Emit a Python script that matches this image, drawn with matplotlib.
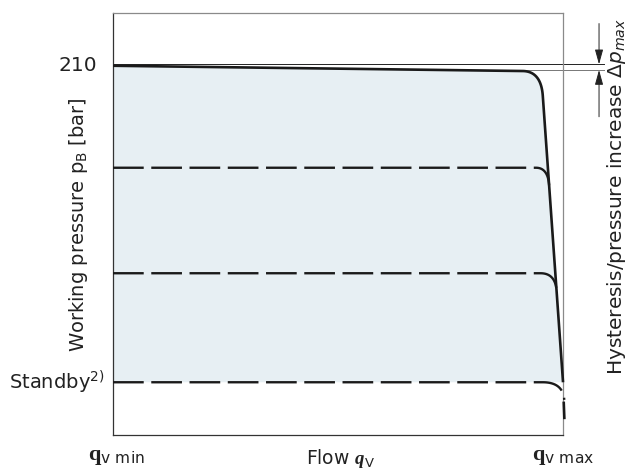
import numpy as np
import matplotlib
matplotlib.use("Agg")
import matplotlib.pyplot as plt

plt.rcParams['font.family'] = ['DejaVu Sans']
plt.rcParams['mathtext.fontset'] = 'custom'
plt.rcParams['mathtext.rm'] = 'DejaVu Sans'
plt.rcParams['mathtext.it'] = 'DejaVu Sans:italic'
plt.rcParams['mathtext.bf'] = 'Liberation Serif:bold'
plt.rcParams['mathtext.bfit'] = 'Liberation Serif:italic:bold'

# Pressure curve data (flow normalised 0 = qv min, 1 = qv max)
max_pressure = 210
top_end_pressure = 207
hysteresis_levels = [210.8, 207.6]
setting_levels = [152, 92, 30]        # dashed pressure settings, last one = standby
droop_top = (0.955, 193)              # steep regulator line, solid part
droop_bottom = (1.0, 30)
droop_tail = [(1.0015, 19), (1.003, 9)]

FILL = '#e7eff3'
LINE = '#1a1a1a'
TEXT = '#222222'


def droop_x(p):
    """x position of the steep droop line at pressure p"""
    (x0, p0), (x1, p1) = droop_top, droop_bottom
    return x0 + (p0 - p) / (p0 - p1) * (x1 - x0)


def bezier(p0, c, p1, n=30):
    t = np.linspace(0, 1, n)[:, None]
    pts = (1 - t) ** 2 * np.array(p0) + 2 * (1 - t) * t * np.array(c) + t ** 2 * np.array(p1)
    return pts[:, 0], pts[:, 1]


def corner_curve(x_start, p_level, drop):
    xs = [0, x_start]
    ps = [p_level, p_level]
    bx, bp = bezier((x_start, p_level), (droop_x(p_level), p_level),
                    (droop_x(p_level - drop), p_level - drop))
    return np.r_[xs, bx[1:]], np.r_[ps, bp[1:]]


fig = plt.figure(figsize=(6.3, 4.68), dpi=100)
ax = fig.add_axes([0.1794, 0.0705, 0.7143, 0.9017])
ax.set_xlim(0, 1)
ax.set_ylim(0, 240)
ax.set_xticks([])
ax.set_yticks([])
for side in ['left', 'bottom']:
    ax.spines[side].set_color('#333333')
    ax.spines[side].set_linewidth(0.9)
for side in ['top', 'right']:
    ax.spines[side].set_color('#8a8a8a')
    ax.spines[side].set_linewidth(0.9)

# top solid curve: slight slope then rounded corner into the droop line
tx = np.linspace(0, 0.912, 20)
tp = max_pressure + (top_end_pressure - max_pressure) * tx / 0.912
bx, bp = bezier((0.912, top_end_pressure), (droop_x(top_end_pressure), top_end_pressure - 0.4),
                droop_top)
top_x = np.r_[tx, bx[1:], droop_bottom[0]]
top_p = np.r_[tp, bp[1:], droop_bottom[1]]

# fill between top curve and standby level
fill_x = np.r_[top_x, 0]
fill_p = np.r_[np.maximum(top_p, setting_levels[-1]), setting_levels[-1]]
ax.fill(fill_x, fill_p, color=FILL, lw=0, zorder=1)

ax.plot(top_x, top_p, color=LINE, lw=1.9, solid_capstyle='butt', zorder=3, clip_on=False)
ax.plot([p[0] for p in droop_tail], [p[1] for p in droop_tail], color=LINE, lw=1.9,
        solid_capstyle='butt', zorder=3, clip_on=False)

# dashed pressure settings
for lvl, xs in zip(setting_levels, [0.94, 0.95, 0.955]):
    cx, cp = corner_curve(xs, lvl, 10)
    ax.plot(cx, cp, color=LINE, lw=1.7, dashes=(13, 3.2), zorder=3, clip_on=False)

# hysteresis marks
ax.plot([0, 1.09], [hysteresis_levels[0]] * 2, color='#222222', lw=0.7, zorder=2, clip_on=False)
ax.plot([0.91, 1.09], [hysteresis_levels[1]] * 2, color='#777777', lw=0.7, zorder=2, clip_on=False)
arrow_x = 1.08
ax.annotate('', xy=(arrow_x, hysteresis_levels[0]), xytext=(arrow_x, 234),
            arrowprops=dict(arrowstyle='-|>,head_length=0.9,head_width=0.25', color='#222222',
                            lw=0.7, mutation_scale=10, shrinkA=0, shrinkB=0), annotation_clip=False)
ax.annotate('', xy=(arrow_x, hysteresis_levels[1]), xytext=(arrow_x, 181),
            arrowprops=dict(arrowstyle='-|>,head_length=0.9,head_width=0.25', color='#222222',
                            lw=0.7, mutation_scale=10, shrinkA=0, shrinkB=0), annotation_clip=False)

# labels
ax.text(-0.035, max_pressure, '210', ha='right', va='center', fontsize=14.5, color=TEXT)
ax.text(-0.018, setting_levels[-1], r'Standby$^{\mathrm{2)}}$', ha='right', va='center',
        fontsize=14, color=TEXT)
fig.text(78 / 630, 1 - 225 / 468, r'Working pressure $\mathrm{p_B}$ [bar]', rotation=90,
         ha='center', va='center', fontsize=14, color=TEXT)
fig.text(617 / 630, 1 - 196 / 468, r'Hysteresis/pressure increase $\mathit{\Delta p}_{\mathit{max}}$',
         rotation=90, ha='center', va='center', fontsize=14.5, color=TEXT)
fig.text(116 / 630, 1 - 457 / 468, r'$\mathbf{q}_{\mathrm{v\ min}}$', ha='center', va='center',
         fontsize=16, color=TEXT)
fig.text(563 / 630, 1 - 457 / 468, r'$\mathbf{q}_{\mathrm{v\ max}}$', ha='center', va='center',
         fontsize=16, color=TEXT)
fig.text(341 / 630, 1 - 458 / 468, r'Flow $\mathbfit{q}_{\mathrm{V}}$', ha='center', va='center',
         fontsize=13.5, color=TEXT)

fig.savefig('out.png', dpi=100)
